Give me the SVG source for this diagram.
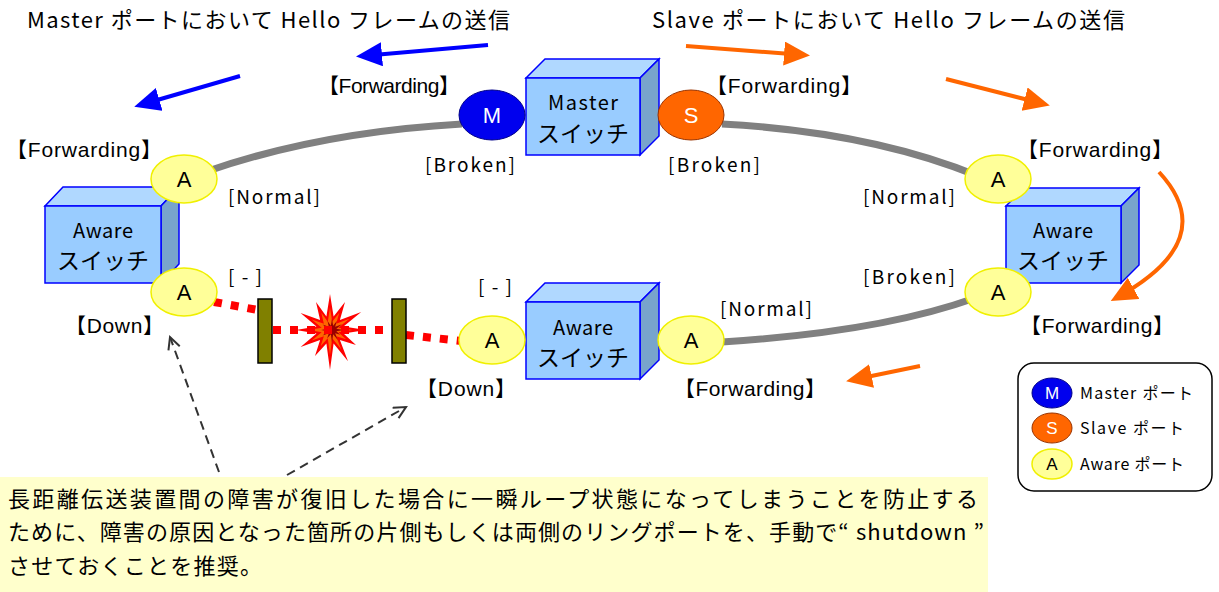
<svg xmlns="http://www.w3.org/2000/svg" width="1219" height="592" viewBox="0 0 1219 592">
  <style>
    .jp { font-family: "Noto Sans CJK JP", "DejaVu Sans", sans-serif; fill: #000; }
    .fw { font-family: "Liberation Sans", "Noto Sans CJK JP", sans-serif; font-size: 21px; fill: #000; }
    .st { font-family: "Noto Sans CJK JP", sans-serif; font-size: 19px; fill: #000; }
    .sw { font-family: "Noto Sans CJK JP", sans-serif; fill: #000; text-anchor: middle; }
    .front { fill: #99CCFF; stroke: #0000FF; stroke-width: 1.5; }
    .top { fill: #B0D8FF; stroke: #0000FF; stroke-width: 1.5; }
    .side { fill: #78A4CC; stroke: #0000FF; stroke-width: 1.5; }
    .pa { fill: #FFFF99; stroke: #F0F000; stroke-width: 1.5; }
    .pm { fill: #0000EE; stroke: #000088; stroke-width: 1; }
    .ps { fill: #FF6600; stroke: #993300; stroke-width: 1; }
    .plbl { font-family: "Liberation Sans", sans-serif; font-size: 22px; text-anchor: middle; }
    .ring { fill: none; stroke: #808080; stroke-width: 7; }
    .dot { fill: none; stroke: #FF0000; stroke-width: 8; stroke-dasharray: 8 9; }
    .bar { fill: #808000; stroke: #000; stroke-width: 1.5; }
    .blue { fill: none; stroke: #0000FF; stroke-width: 4; marker-end: url(#hb); }
    .orange { fill: none; stroke: #FF6600; stroke-width: 4; marker-end: url(#ho); }
    .note { fill: none; stroke: #333; stroke-width: 2; stroke-dasharray: 9 6; marker-end: url(#hn); }
  </style>
  <defs>
    <marker id="hb" markerUnits="userSpaceOnUse" markerWidth="28" markerHeight="26" refX="20" refY="12" orient="auto">
      <path d="M0,0 L26,12 L0,24 z" fill="#0000FF"/>
    </marker>
    <marker id="ho" markerUnits="userSpaceOnUse" markerWidth="28" markerHeight="26" refX="20" refY="12" orient="auto">
      <path d="M0,0 L26,12 L0,24 z" fill="#FF6600"/>
    </marker>
    <marker id="hn" markerUnits="userSpaceOnUse" markerWidth="16" markerHeight="16" refX="13" refY="7" orient="auto">
      <path d="M1,1 L13,7 L1,13" fill="none" stroke="#333" stroke-width="2"/>
    </marker>
    <polygon id="burst" points="366,330 343.5,333.6 356,345 339.9,339.9 348,361.2 333.6,343.5 330,370 326.4,343.5 315,356 320.1,339.9 300.6,347 316.5,333.6 296,330 316.5,326.4 300.6,313 320.1,320.1 316,302 326.4,316.5 330,294 333.6,316.5 345,302 339.9,320.1 361.2,312 343.5,326.4"/>
  </defs>

  <rect width="1219" height="592" fill="#fff"/>

  <!-- ring links -->
  <g id="connectors">
    <path class="ring" d="M205 172 Q 320 132 462 124"/>
    <path class="ring" d="M722 124 Q 870 132 978 176"/>
    <path class="ring" d="M722 342 Q 880 332 975 298"/>
    <path class="dot" d="M214 302 L258 310"/>
    <path class="dot" d="M406 335 L462 341"/>
  </g>

  <!-- cut line: terminations and failure point -->
  <g id="failure">
    <g id="explosion">
      <use href="#burst" fill="#FF0000"/>
      <use href="#burst" fill="#FF6600" transform="translate(330 330) scale(0.62) translate(-330 -330)"/>
      <use href="#burst" fill="#990000" transform="translate(332 330) scale(0.32) translate(-330 -330)"/>
    </g>
    <path class="dot" d="M273 330 L392 330"/>
    <rect class="bar" x="258" y="299" width="14" height="64"/>
    <rect class="bar" x="392" y="299" width="14" height="64"/>
  </g>

  <!-- Master switch -->
  <g id="master-switch">
    <polygon class="top" points="526,78 545,59 659,59 640,78"/>
    <polygon class="side" points="640,78 659,59 659,136 640,155"/>
    <rect class="front" x="526" y="78" width="114" height="77"/>
    <text class="sw" x="583" y="110" font-size="20" textLength="70">Master</text>
    <text class="sw" x="583" y="142" font-size="23">スイッチ</text>
    <ellipse class="pm" cx="492" cy="115" rx="33" ry="25"/>
    <text class="plbl" x="492" y="123" fill="#fff">M</text>
    <ellipse class="ps" cx="691" cy="115" rx="33" ry="25"/>
    <text class="plbl" x="691" y="123" fill="#fff">S</text>
  </g>

  <!-- left Aware switch -->
  <g id="aware-left">
    <polygon class="top" points="45,206 63,187 179,187 161,206"/>
    <polygon class="side" points="161,206 179,187 179,264 161,283"/>
    <rect class="front" x="45" y="206" width="116" height="77"/>
    <text class="sw" x="103" y="238" font-size="20" textLength="60">Aware</text>
    <text class="sw" x="103" y="269" font-size="23">スイッチ</text>
    <ellipse class="pa" cx="184" cy="179" rx="33" ry="24"/>
    <text class="plbl" x="184" y="187">A</text>
    <ellipse class="pa" cx="184" cy="292" rx="33" ry="24"/>
    <text class="plbl" x="184" y="300">A</text>
  </g>

  <!-- right Aware switch -->
  <g id="aware-right">
    <polygon class="top" points="1006,206 1024,188 1139,188 1121,206"/>
    <polygon class="side" points="1121,206 1139,188 1139,265 1121,283"/>
    <rect class="front" x="1006" y="206" width="115" height="77"/>
    <text class="sw" x="1063" y="238" font-size="20" textLength="60">Aware</text>
    <text class="sw" x="1063" y="269" font-size="23">スイッチ</text>
    <ellipse class="pa" cx="998" cy="179" rx="33" ry="24"/>
    <text class="plbl" x="998" y="187">A</text>
    <ellipse class="pa" cx="998" cy="292" rx="33" ry="24"/>
    <text class="plbl" x="998" y="300">A</text>
  </g>

  <!-- bottom Aware switch -->
  <g id="aware-bottom">
    <polygon class="top" points="526,302 545,283 659,283 640,302"/>
    <polygon class="side" points="640,302 659,283 659,360 640,379"/>
    <rect class="front" x="526" y="302" width="114" height="77"/>
    <text class="sw" x="583" y="335" font-size="20" textLength="60">Aware</text>
    <text class="sw" x="583" y="366" font-size="23">スイッチ</text>
    <ellipse class="pa" cx="492" cy="340" rx="33" ry="24"/>
    <text class="plbl" x="492" y="348">A</text>
    <ellipse class="pa" cx="691" cy="340" rx="33" ry="24"/>
    <text class="plbl" x="691" y="348">A</text>
  </g>

  <!-- Hello frame direction -->
  <g id="hello-arrows">
    <path class="blue" d="M488 45 L362 56"/>
    <path class="blue" d="M240 76 L140 105"/>
    <path class="orange" d="M686 46 L804 55"/>
    <path class="orange" d="M946 79 L1044 104"/>
    <path class="orange" d="M1159 172 Q 1222 240 1116 298"/>
    <path class="orange" d="M920 366 L852 380"/>
  </g>

  <!-- headings -->
  <text class="jp" x="27" y="28" font-size="22" textLength="483">Master ポートにおいて Hello フレームの送信</text>
  <text class="jp" x="652" y="28" font-size="22" textLength="473">Slave ポートにおいて Hello フレームの送信</text>

  <!-- port states -->
  <g id="states">
    <text class="fw" x="318" y="93" textLength="142">【Forwarding】</text>
    <text class="fw" x="706" y="93" textLength="156">【Forwarding】</text>
    <text class="fw" x="6" y="157" textLength="156">【Forwarding】</text>
    <text class="fw" x="1017" y="157" textLength="156">【Forwarding】</text>
    <text class="fw" x="1020" y="333" textLength="154">【Forwarding】</text>
    <text class="fw" x="674" y="396" textLength="152">【Forwarding】</text>
    <text class="fw" x="65" y="333" textLength="99">【Down】</text>
    <text class="fw" x="416" y="396" textLength="100">【Down】</text>
    <text class="st" x="425" y="172" textLength="90">[Broken]</text>
    <text class="st" x="668" y="172" textLength="92">[Broken]</text>
    <text class="st" x="228" y="204" textLength="92">[Normal]</text>
    <text class="st" x="863" y="204" textLength="92">[Normal]</text>
    <text class="st" x="863" y="284" textLength="92">[Broken]</text>
    <text class="st" x="720" y="316" textLength="92">[Normal]</text>
    <text class="st" x="228" y="284" textLength="34">[-]</text>
    <text class="st" x="478" y="294" textLength="34">[-]</text>
  </g>

  <!-- note pointers -->
  <g id="note-arrows">
    <path class="note" d="M219 472 L170 337"/>
    <path class="note" d="M287 475 L406 407"/>
  </g>

  <!-- note -->
  <g id="note">
    <rect x="0" y="477" width="988" height="115" fill="#FFFFCC"/>
    <text class="jp" x="8" y="507" font-size="22" textLength="970">長距離伝送装置間の障害が復旧した場合に一瞬ループ状態になってしまうことを防止する</text>
    <text class="jp" x="8" y="540" font-size="22" textLength="976">ために、障害の原因となった箇所の片側もしくは両側のリングポートを、手動で“ shutdown ”</text>
    <text class="jp" x="8" y="574" font-size="22" textLength="254">させておくことを推奨。</text>
  </g>

  <!-- legend -->
  <g id="legend">
    <rect x="1018" y="363" width="194" height="128" rx="16" fill="#fff" stroke="#000" stroke-width="1.5"/>
    <ellipse class="pm" cx="1052" cy="393" rx="20" ry="15"/>
    <text x="1052" y="399" font-family="Liberation Sans, sans-serif" font-size="17" fill="#fff" text-anchor="middle">M</text>
    <ellipse class="ps" cx="1052" cy="428" rx="20" ry="15"/>
    <text x="1052" y="434" font-family="Liberation Sans, sans-serif" font-size="17" fill="#fff" text-anchor="middle">S</text>
    <ellipse class="pa" cx="1052" cy="464" rx="20" ry="15"/>
    <text x="1052" y="470" font-family="Liberation Sans, sans-serif" font-size="17" text-anchor="middle">A</text>
    <text class="jp" x="1080" y="399" font-size="16" textLength="113">Master ポート</text>
    <text class="jp" x="1080" y="434" font-size="16" textLength="104">Slave ポート</text>
    <text class="jp" x="1080" y="470" font-size="16" textLength="104">Aware ポート</text>
  </g>
</svg>
